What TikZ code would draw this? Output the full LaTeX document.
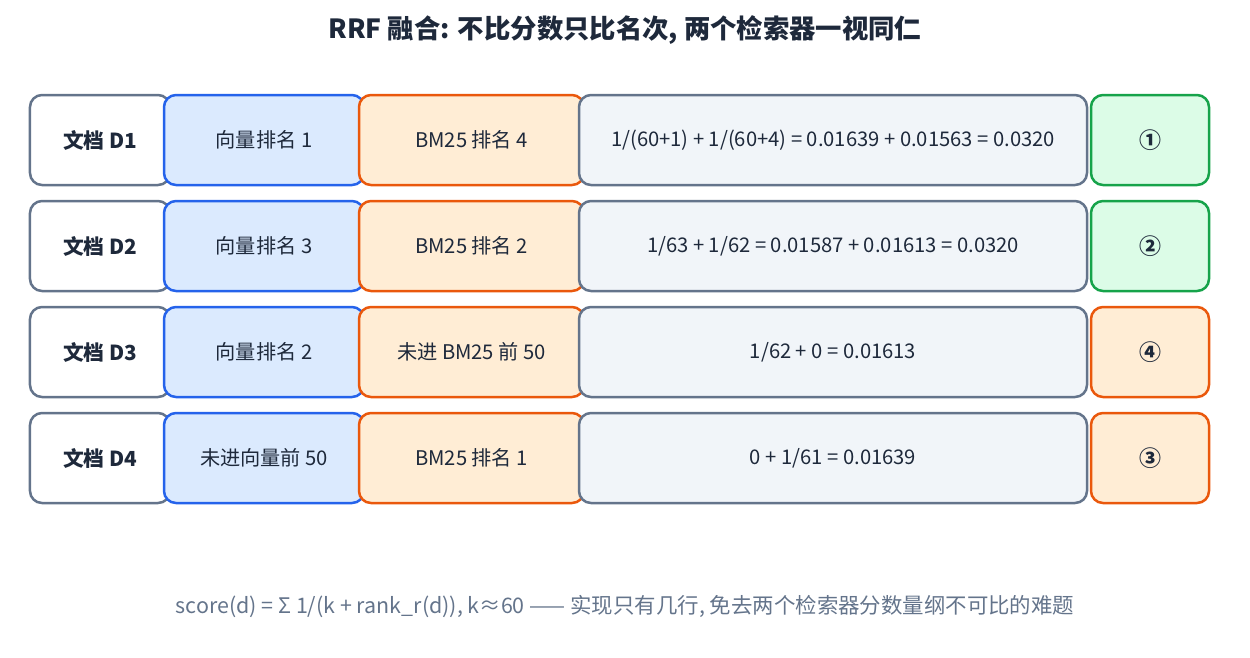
\documentclass[tikz,border=0pt]{standalone}
\usepackage{fontspec}
\setmainfont{Noto Sans CJK SC}
\usetikzlibrary{positioning}

\definecolor{slateline}{HTML}{64748B}
\definecolor{slatefill}{HTML}{F1F5F9}
\definecolor{inkdark}{HTML}{1E293B}
\definecolor{blueline}{HTML}{2563EB}
\definecolor{bluefill}{HTML}{DBEAFE}
\definecolor{orangeline}{HTML}{EA580C}
\definecolor{orangefill}{HTML}{FFEDD5}
\definecolor{greenline}{HTML}{16A34A}
\definecolor{greenfill}{HTML}{DCFCE7}

\tikzset{
    cell/.style = {draw, rounded corners = 2.4mm, line width = 0.5mm,
        minimum height = 18mm, text = inkdark, font = \fontsize{11.5}{13}\selectfont,
        inner sep = 0pt},
    doccell/.style = {cell, draw = slateline, fill = white, minimum width = 28mm,
        font = \fontsize{11.8}{13}\selectfont\bfseries},
    veccell/.style = {cell, draw = blueline, fill = bluefill, minimum width = 40mm},
    bmcell/.style = {cell, draw = orangeline, fill = orangefill, minimum width = 45mm},
    sumcell/.style = {cell, draw = slateline, fill = slatefill, minimum width = 101.6mm},
    topcell/.style = {cell, draw = greenline, fill = greenfill, minimum width = 23.6mm,
        font = \fontsize{12.5}{14}\selectfont\bfseries},
    lowcell/.style = {topcell, draw = orangeline, fill = orangefill},
}

\begin{document}
\begin{tikzpicture}[x = 0.2mm, y = -0.2mm]

    \useasboundingbox (0,0) rectangle (1250,657);

    \node[text = inkdark, font = \fontsize{15}{17}\selectfont\bfseries] (title)
        at (625,30) {RRF 融合: 不比分数只比名次, 两个检索器一视同仁};

    % one row per document
    \foreach \ROW/\Y/\VEC/\BM/\SUM/\PLACE/\KIND in {
        1/140/向量排名 1/BM25 排名 4/{1/(60+1) + 1/(60+4) = 0.01639 + 0.01563 = 0.0320}/①/topcell,
        2/246/向量排名 3/BM25 排名 2/{1/63 + 1/62 = 0.01587 + 0.01613 = 0.0320}/②/topcell,
        3/352/向量排名 2/未进 BM25 前 50/{1/62 + 0 = 0.01613}/④/lowcell,
        4/458/未进向量前 50/BM25 排名 1/{0 + 1/61 = 0.01639}/③/lowcell}{
        \node[doccell] (doc\ROW) at (100,\Y) {文档 D\ROW};
        \node[veccell] (vec\ROW) at (264,\Y) {\VEC};
        \node[bmcell]  (bm\ROW)  at (471.5,\Y) {\BM};
        \node[sumcell] (sum\ROW) at (833,\Y) {\SUM};
        \node[\KIND]   (rank\ROW) at (1150,\Y) {\PLACE};
    }

    \node[text = slateline, font = \fontsize{12.2}{14}\selectfont] (note) at (625,607)
        {score(d) = Σ 1/(k + rank\_r(d)), k≈60 —— 实现只有几行, 免去两个检索器分数量纲不可比的难题};

\end{tikzpicture}
\end{document}
